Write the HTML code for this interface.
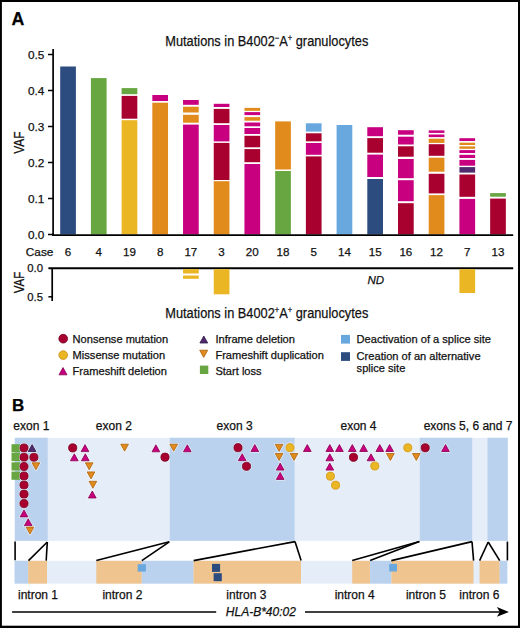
<!DOCTYPE html><html><head><meta charset="utf-8"><style>html,body{margin:0;padding:0;background:#fff;}svg{display:block;}text{font-family:"Liberation Sans", sans-serif;stroke:#111;stroke-width:0.25px;}</style></head><body>
<svg width="520" height="628" viewBox="0 0 520 628">
<rect x="0" y="0" width="520" height="628" fill="#fff"/>
<text x="11.6" y="24.8" font-size="17.8" font-weight="bold" fill="#000">A</text>
<text x="165.3" y="46.1" font-size="15.2" fill="#111" textLength="203" lengthAdjust="spacingAndGlyphs">Mutations in B4002<tspan font-size="9" dy="-5.5">&#8722;</tspan><tspan dy="5.5">A</tspan><tspan font-size="9" dy="-5">+</tspan><tspan dy="5"> granulocytes</tspan></text>
<rect x="60.20" y="66.5" width="15.7" height="167.90" fill="#2C4C80"/>
<text x="68.05" y="256.3" font-size="11.6" text-anchor="middle" fill="#111">6</text>
<rect x="90.91" y="78.1" width="15.7" height="156.30" fill="#67A640"/>
<text x="98.76" y="256.3" font-size="11.6" text-anchor="middle" fill="#111">4</text>
<rect x="121.62" y="88.1" width="15.7" height="6.10" fill="#67A640"/>
<rect x="121.62" y="95.9" width="15.7" height="22.80" fill="#A8002F"/>
<rect x="121.62" y="120.2" width="15.7" height="114.20" fill="#EAB624"/>
<text x="129.47" y="256.3" font-size="11.6" text-anchor="middle" fill="#111">19</text>
<rect x="152.33" y="95.0" width="15.7" height="6.00" fill="#C8007F"/>
<rect x="152.33" y="102.7" width="15.7" height="131.70" fill="#E08B1C"/>
<text x="160.18" y="256.3" font-size="11.6" text-anchor="middle" fill="#111">8</text>
<rect x="183.04" y="100.0" width="15.7" height="4.80" fill="#C8007F"/>
<rect x="183.04" y="106.7" width="15.7" height="5.80" fill="#E08B1C"/>
<rect x="183.04" y="114.8" width="15.7" height="7.90" fill="#E08B1C"/>
<rect x="183.04" y="124.6" width="15.7" height="109.80" fill="#C8007F"/>
<text x="190.89" y="256.3" font-size="11.6" text-anchor="middle" fill="#111">17</text>
<rect x="213.75" y="103.8" width="15.7" height="3.20" fill="#C8007F"/>
<rect x="213.75" y="108.9" width="15.7" height="14.30" fill="#A8002F"/>
<rect x="213.75" y="125.0" width="15.7" height="16.40" fill="#C8007F"/>
<rect x="213.75" y="142.9" width="15.7" height="37.10" fill="#A8002F"/>
<rect x="213.75" y="181.2" width="15.7" height="53.20" fill="#E08B1C"/>
<text x="221.60" y="256.3" font-size="11.6" text-anchor="middle" fill="#111">3</text>
<rect x="244.46" y="107.9" width="15.7" height="2.90" fill="#E08B1C"/>
<rect x="244.46" y="112.1" width="15.7" height="3.00" fill="#C8007F"/>
<rect x="244.46" y="117.1" width="15.7" height="3.60" fill="#E08B1C"/>
<rect x="244.46" y="122.5" width="15.7" height="3.80" fill="#C8007F"/>
<rect x="244.46" y="128.0" width="15.7" height="6.00" fill="#C8007F"/>
<rect x="244.46" y="135.8" width="15.7" height="11.50" fill="#A8002F"/>
<rect x="244.46" y="149.1" width="15.7" height="13.10" fill="#A8002F"/>
<rect x="244.46" y="164.0" width="15.7" height="70.40" fill="#C8007F"/>
<text x="252.31" y="256.3" font-size="11.6" text-anchor="middle" fill="#111">20</text>
<rect x="275.17" y="121.4" width="15.7" height="48.10" fill="#E08B1C"/>
<rect x="275.17" y="171.0" width="15.7" height="63.40" fill="#67A640"/>
<text x="283.02" y="256.3" font-size="11.6" text-anchor="middle" fill="#111">18</text>
<rect x="305.88" y="123.3" width="15.7" height="8.30" fill="#69A8DF"/>
<rect x="305.88" y="133.3" width="15.7" height="8.00" fill="#A8002F"/>
<rect x="305.88" y="143.0" width="15.7" height="11.80" fill="#C8007F"/>
<rect x="305.88" y="156.4" width="15.7" height="78.00" fill="#A8002F"/>
<text x="313.73" y="256.3" font-size="11.6" text-anchor="middle" fill="#111">5</text>
<rect x="336.59" y="125.0" width="15.7" height="109.40" fill="#69A8DF"/>
<text x="344.44" y="256.3" font-size="11.6" text-anchor="middle" fill="#111">14</text>
<rect x="367.30" y="127.2" width="15.7" height="9.00" fill="#C8007F"/>
<rect x="367.30" y="138.1" width="15.7" height="14.60" fill="#A8002F"/>
<rect x="367.30" y="154.6" width="15.7" height="22.40" fill="#C8007F"/>
<rect x="367.30" y="179.0" width="15.7" height="55.40" fill="#2C4C80"/>
<text x="375.15" y="256.3" font-size="11.6" text-anchor="middle" fill="#111">15</text>
<rect x="398.01" y="130.2" width="15.7" height="4.50" fill="#C8007F"/>
<rect x="398.01" y="136.7" width="15.7" height="7.80" fill="#C8007F"/>
<rect x="398.01" y="146.3" width="15.7" height="10.40" fill="#A8002F"/>
<rect x="398.01" y="159.0" width="15.7" height="19.20" fill="#C8007F"/>
<rect x="398.01" y="180.2" width="15.7" height="21.00" fill="#C8007F"/>
<rect x="398.01" y="203.2" width="15.7" height="31.20" fill="#A8002F"/>
<text x="405.86" y="256.3" font-size="11.6" text-anchor="middle" fill="#111">16</text>
<rect x="428.72" y="130.4" width="15.7" height="2.50" fill="#C8007F"/>
<rect x="428.72" y="134.5" width="15.7" height="2.60" fill="#C8007F"/>
<rect x="428.72" y="138.7" width="15.7" height="4.20" fill="#E08B1C"/>
<rect x="428.72" y="144.2" width="15.7" height="11.60" fill="#A8002F"/>
<rect x="428.72" y="157.7" width="15.7" height="14.00" fill="#E08B1C"/>
<rect x="428.72" y="173.8" width="15.7" height="19.60" fill="#A8002F"/>
<rect x="428.72" y="195.1" width="15.7" height="39.30" fill="#E08B1C"/>
<text x="436.57" y="256.3" font-size="11.6" text-anchor="middle" fill="#111">12</text>
<rect x="459.43" y="138.2" width="15.7" height="2.80" fill="#C8007F"/>
<rect x="459.43" y="142.7" width="15.7" height="2.30" fill="#E08B1C"/>
<rect x="459.43" y="146.4" width="15.7" height="2.40" fill="#E08B1C"/>
<rect x="459.43" y="150.1" width="15.7" height="2.90" fill="#C8007F"/>
<rect x="459.43" y="154.8" width="15.7" height="3.20" fill="#C8007F"/>
<rect x="459.43" y="159.9" width="15.7" height="5.80" fill="#C8007F"/>
<rect x="459.43" y="167.1" width="15.7" height="5.50" fill="#4F2B6E"/>
<rect x="459.43" y="174.5" width="15.7" height="22.30" fill="#A8002F"/>
<rect x="459.43" y="198.9" width="15.7" height="35.50" fill="#C8007F"/>
<text x="467.28" y="256.3" font-size="11.6" text-anchor="middle" fill="#111">7</text>
<rect x="490.14" y="193.1" width="15.7" height="3.60" fill="#67A640"/>
<rect x="490.14" y="198.6" width="15.7" height="35.80" fill="#A8002F"/>
<text x="497.99" y="256.3" font-size="11.6" text-anchor="middle" fill="#111">13</text>
<line x1="53.1" y1="48.9" x2="53.1" y2="235.8" stroke="#000" stroke-width="1.7"/>
<line x1="52.3" y1="235.1" x2="513.2" y2="235.1" stroke="#000" stroke-width="1.8"/>
<line x1="48" y1="234.50" x2="53" y2="234.50" stroke="#000" stroke-width="1.5"/>
<text x="44.4" y="239.20" font-size="11.8" text-anchor="end" fill="#111">0.0</text>
<line x1="48" y1="198.50" x2="53" y2="198.50" stroke="#000" stroke-width="1.5"/>
<text x="44.4" y="203.20" font-size="11.8" text-anchor="end" fill="#111">0.1</text>
<line x1="48" y1="162.50" x2="53" y2="162.50" stroke="#000" stroke-width="1.5"/>
<text x="44.4" y="167.20" font-size="11.8" text-anchor="end" fill="#111">0.2</text>
<line x1="48" y1="126.50" x2="53" y2="126.50" stroke="#000" stroke-width="1.5"/>
<text x="44.4" y="131.20" font-size="11.8" text-anchor="end" fill="#111">0.3</text>
<line x1="48" y1="90.50" x2="53" y2="90.50" stroke="#000" stroke-width="1.5"/>
<text x="44.4" y="95.20" font-size="11.8" text-anchor="end" fill="#111">0.4</text>
<line x1="48" y1="54.50" x2="53" y2="54.50" stroke="#000" stroke-width="1.5"/>
<text x="44.4" y="59.20" font-size="11.8" text-anchor="end" fill="#111">0.5</text>
<text transform="translate(23.9,142.7) rotate(-90)" font-size="14" text-anchor="middle" fill="#111" textLength="22.3" lengthAdjust="spacingAndGlyphs">VAF</text>
<text x="25.8" y="256.0" font-size="11.8" fill="#111">Case</text>
<line x1="48.4" y1="268.3" x2="513.2" y2="268.3" stroke="#000" stroke-width="1.9"/>
<line x1="52.2" y1="268.3" x2="52.2" y2="301" stroke="#000" stroke-width="1.7"/>
<line x1="48.4" y1="296.8" x2="52.2" y2="296.8" stroke="#000" stroke-width="1.5"/>
<text x="43" y="272.3" font-size="11.3" text-anchor="end" fill="#111">0.0</text>
<text x="43" y="301.0" font-size="11.3" text-anchor="end" fill="#111">0.5</text>
<text transform="translate(24.0,282.5) rotate(-90)" font-size="14" text-anchor="middle" fill="#111" textLength="21.6" lengthAdjust="spacingAndGlyphs">VAF</text>
<rect x="183.04" y="269.2" width="15.7" height="4.30" fill="#EAB624"/>
<rect x="183.04" y="275.5" width="15.7" height="3.30" fill="#EAB624"/>
<rect x="213.75" y="269.2" width="15.7" height="25.10" fill="#EAB624"/>
<rect x="459.43" y="269.2" width="15.7" height="23.80" fill="#EAB624"/>
<text x="375.8" y="284.2" font-size="11.5" font-style="italic" text-anchor="middle" fill="#111">ND</text>
<text x="165.3" y="317.5" font-size="15.2" fill="#111" textLength="203" lengthAdjust="spacingAndGlyphs">Mutations in B4002<tspan font-size="9" dy="-5">+</tspan><tspan dy="5">A</tspan><tspan font-size="9" dy="-5">+</tspan><tspan dy="5"> granulocytes</tspan></text>
<circle cx="63.2" cy="338.7" r="4.35" fill="none" stroke="#fff" stroke-opacity="0.8" stroke-width="1.4"/>
<circle cx="63.2" cy="338.7" r="4.35" fill="#A8002F" stroke="#6E0020" stroke-width="0.8"/>
<circle cx="63.2" cy="355.1" r="4.35" fill="none" stroke="#fff" stroke-opacity="0.8" stroke-width="1.4"/>
<circle cx="63.2" cy="355.1" r="4.35" fill="#EAB624" stroke="#C8921A" stroke-width="0.8"/>
<polygon points="59.00,374.80 67.00,374.80 63.00,367.60" fill="none" stroke="#fff" stroke-opacity="0.8" stroke-width="1.4" stroke-linejoin="round"/>
<polygon points="59.00,374.80 67.00,374.80 63.00,367.60" fill="#C8007F" stroke="#80004F" stroke-width="0.8" stroke-linejoin="round"/>
<polygon points="199.90,343.01 207.70,343.01 203.80,335.99" fill="none" stroke="#fff" stroke-opacity="0.8" stroke-width="1.4" stroke-linejoin="round"/>
<polygon points="199.90,343.01 207.70,343.01 203.80,335.99" fill="#4F2B6E" stroke="#2E1648" stroke-width="0.8" stroke-linejoin="round"/>
<polygon points="199.70,350.20 207.70,350.20 203.70,357.40" fill="none" stroke="#fff" stroke-opacity="0.8" stroke-width="1.4" stroke-linejoin="round"/>
<polygon points="199.70,350.20 207.70,350.20 203.70,357.40" fill="#E08B1C" stroke="#A86212" stroke-width="0.8" stroke-linejoin="round"/>
<rect x="199.9" y="365.6" width="8.4" height="8.4" fill="#67A640"/>
<rect x="341" y="334.9" width="9" height="8.7" fill="#69A8DF"/>
<rect x="341" y="352.2" width="9" height="8.7" fill="#2C4C80"/>
<text x="72.6" y="342.9" font-size="11.1" fill="#111">Nonsense mutation</text>
<text x="72.6" y="358.9" font-size="11.1" fill="#111">Missense mutation</text>
<text x="72.6" y="375.1" font-size="11.1" fill="#111">Frameshift deletion</text>
<text x="215.4" y="343.0" font-size="11.1" fill="#111">Inframe deletion</text>
<text x="215.4" y="358.8" font-size="11.1" fill="#111">Frameshift duplication</text>
<text x="215.4" y="375.2" font-size="11.1" fill="#111">Start loss</text>
<text x="356.6" y="342.8" font-size="11.1" fill="#111">Deactivation of a splice site</text>
<text x="356.6" y="359.9" font-size="11.1" fill="#111">Creation of an alternative</text>
<text x="356.6" y="371.8" font-size="11.1" fill="#111">splice site</text>
<text x="12.0" y="410.9" font-size="17.0" font-weight="bold" fill="#000">B</text>
<text x="13.3" y="430.0" font-size="12" fill="#111">exon 1</text>
<text x="95.8" y="430.0" font-size="12" fill="#111">exon 2</text>
<text x="216.6" y="430.0" font-size="12" fill="#111">exon 3</text>
<text x="340.5" y="430.0" font-size="12" fill="#111">exon 4</text>
<text x="423.7" y="430.0" font-size="12" fill="#111">exons 5, 6 and 7</text>
<rect x="14.8" y="437.8" width="493.2" height="103" fill="#E4EDF8"/>
<rect x="14.8" y="437.8" width="32.90" height="103" fill="#BBD2EF"/>
<rect x="169.8" y="437.8" width="124.80" height="103" fill="#BBD2EF"/>
<rect x="419.8" y="437.8" width="52.40" height="103" fill="#BBD2EF"/>
<rect x="487.5" y="437.8" width="20.30" height="103" fill="#BBD2EF"/>
<rect x="11.5" y="444.2" width="8.6" height="8.2" fill="#67A640"/>
<rect x="11.5" y="452.9" width="8.6" height="8.2" fill="#67A640"/>
<rect x="11.5" y="462.3" width="8.6" height="8.2" fill="#67A640"/>
<rect x="11.5" y="471.6" width="8.6" height="8.2" fill="#67A640"/>
<circle cx="24.0" cy="448.0" r="4.1" fill="none" stroke="#fff" stroke-opacity="0.8" stroke-width="2.0"/>
<circle cx="24.0" cy="448.0" r="4.1" fill="#A8002F" stroke="#6E0020" stroke-width="0.8"/>
<circle cx="24.0" cy="457.3" r="4.1" fill="none" stroke="#fff" stroke-opacity="0.8" stroke-width="2.0"/>
<circle cx="24.0" cy="457.3" r="4.1" fill="#A8002F" stroke="#6E0020" stroke-width="0.8"/>
<circle cx="24.0" cy="466.5" r="4.1" fill="none" stroke="#fff" stroke-opacity="0.8" stroke-width="2.0"/>
<circle cx="24.0" cy="466.5" r="4.1" fill="#A8002F" stroke="#6E0020" stroke-width="0.8"/>
<circle cx="24.0" cy="476.0" r="4.1" fill="none" stroke="#fff" stroke-opacity="0.8" stroke-width="2.0"/>
<circle cx="24.0" cy="476.0" r="4.1" fill="#A8002F" stroke="#6E0020" stroke-width="0.8"/>
<circle cx="24.0" cy="485.0" r="4.1" fill="none" stroke="#fff" stroke-opacity="0.8" stroke-width="2.0"/>
<circle cx="24.0" cy="485.0" r="4.1" fill="#A8002F" stroke="#6E0020" stroke-width="0.8"/>
<circle cx="24.0" cy="494.2" r="4.1" fill="none" stroke="#fff" stroke-opacity="0.8" stroke-width="2.0"/>
<circle cx="24.0" cy="494.2" r="4.1" fill="#A8002F" stroke="#6E0020" stroke-width="0.8"/>
<circle cx="24.0" cy="503.6" r="4.1" fill="none" stroke="#fff" stroke-opacity="0.8" stroke-width="2.0"/>
<circle cx="24.0" cy="503.6" r="4.1" fill="#A8002F" stroke="#6E0020" stroke-width="0.8"/>
<polygon points="20.10,516.91 27.90,516.91 24.00,509.89" fill="none" stroke="#fff" stroke-opacity="0.8" stroke-width="2.0" stroke-linejoin="round"/>
<polygon points="20.10,516.91 27.90,516.91 24.00,509.89" fill="#C8007F" stroke="#80004F" stroke-width="0.8" stroke-linejoin="round"/>
<polygon points="24.30,525.81 32.10,525.81 28.20,518.79" fill="none" stroke="#fff" stroke-opacity="0.8" stroke-width="2.0" stroke-linejoin="round"/>
<polygon points="24.30,525.81 32.10,525.81 28.20,518.79" fill="#C8007F" stroke="#80004F" stroke-width="0.8" stroke-linejoin="round"/>
<polygon points="26.10,527.09 33.90,527.09 30.00,534.11" fill="none" stroke="#fff" stroke-opacity="0.8" stroke-width="2.0" stroke-linejoin="round"/>
<polygon points="26.10,527.09 33.90,527.09 30.00,534.11" fill="#E08B1C" stroke="#A86212" stroke-width="0.8" stroke-linejoin="round"/>
<polygon points="28.20,451.51 36.00,451.51 32.10,444.49" fill="none" stroke="#fff" stroke-opacity="0.8" stroke-width="2.0" stroke-linejoin="round"/>
<polygon points="28.20,451.51 36.00,451.51 32.10,444.49" fill="#4F2B6E" stroke="#2E1648" stroke-width="0.8" stroke-linejoin="round"/>
<circle cx="33.9" cy="457.3" r="4.1" fill="none" stroke="#fff" stroke-opacity="0.8" stroke-width="2.0"/>
<circle cx="33.9" cy="457.3" r="4.1" fill="#A8002F" stroke="#6E0020" stroke-width="0.8"/>
<polygon points="32.00,462.79 39.80,462.79 35.90,469.81" fill="none" stroke="#fff" stroke-opacity="0.8" stroke-width="2.0" stroke-linejoin="round"/>
<polygon points="32.00,462.79 39.80,462.79 35.90,469.81" fill="#E08B1C" stroke="#A86212" stroke-width="0.8" stroke-linejoin="round"/>
<circle cx="72.7" cy="447.9" r="4.1" fill="none" stroke="#fff" stroke-opacity="0.8" stroke-width="2.0"/>
<circle cx="72.7" cy="447.9" r="4.1" fill="#A8002F" stroke="#6E0020" stroke-width="0.8"/>
<polygon points="81.10,451.61 88.90,451.61 85.00,444.59" fill="none" stroke="#fff" stroke-opacity="0.8" stroke-width="2.0" stroke-linejoin="round"/>
<polygon points="81.10,451.61 88.90,451.61 85.00,444.59" fill="#C8007F" stroke="#80004F" stroke-width="0.8" stroke-linejoin="round"/>
<polygon points="70.40,460.81 78.20,460.81 74.30,453.79" fill="none" stroke="#fff" stroke-opacity="0.8" stroke-width="2.0" stroke-linejoin="round"/>
<polygon points="70.40,460.81 78.20,460.81 74.30,453.79" fill="#C8007F" stroke="#80004F" stroke-width="0.8" stroke-linejoin="round"/>
<polygon points="81.40,460.81 89.20,460.81 85.30,453.79" fill="none" stroke="#fff" stroke-opacity="0.8" stroke-width="2.0" stroke-linejoin="round"/>
<polygon points="81.40,460.81 89.20,460.81 85.30,453.79" fill="#C8007F" stroke="#80004F" stroke-width="0.8" stroke-linejoin="round"/>
<polygon points="85.30,462.79 93.10,462.79 89.20,469.81" fill="none" stroke="#fff" stroke-opacity="0.8" stroke-width="2.0" stroke-linejoin="round"/>
<polygon points="85.30,462.79 93.10,462.79 89.20,469.81" fill="#E08B1C" stroke="#A86212" stroke-width="0.8" stroke-linejoin="round"/>
<polygon points="87.10,471.89 94.90,471.89 91.00,478.91" fill="none" stroke="#fff" stroke-opacity="0.8" stroke-width="2.0" stroke-linejoin="round"/>
<polygon points="87.10,471.89 94.90,471.89 91.00,478.91" fill="#E08B1C" stroke="#A86212" stroke-width="0.8" stroke-linejoin="round"/>
<polygon points="89.00,481.29 96.80,481.29 92.90,488.31" fill="none" stroke="#fff" stroke-opacity="0.8" stroke-width="2.0" stroke-linejoin="round"/>
<polygon points="89.00,481.29 96.80,481.29 92.90,488.31" fill="#E08B1C" stroke="#A86212" stroke-width="0.8" stroke-linejoin="round"/>
<polygon points="88.40,498.01 96.20,498.01 92.30,490.99" fill="none" stroke="#fff" stroke-opacity="0.8" stroke-width="2.0" stroke-linejoin="round"/>
<polygon points="88.40,498.01 96.20,498.01 92.30,490.99" fill="#C8007F" stroke="#80004F" stroke-width="0.8" stroke-linejoin="round"/>
<polygon points="120.70,444.19 128.50,444.19 124.60,451.21" fill="none" stroke="#fff" stroke-opacity="0.8" stroke-width="2.0" stroke-linejoin="round"/>
<polygon points="120.70,444.19 128.50,444.19 124.60,451.21" fill="#E08B1C" stroke="#A86212" stroke-width="0.8" stroke-linejoin="round"/>
<polygon points="152.00,451.81 159.80,451.81 155.90,444.79" fill="none" stroke="#fff" stroke-opacity="0.8" stroke-width="2.0" stroke-linejoin="round"/>
<polygon points="152.00,451.81 159.80,451.81 155.90,444.79" fill="#C8007F" stroke="#80004F" stroke-width="0.8" stroke-linejoin="round"/>
<circle cx="165.0" cy="457.2" r="4.1" fill="none" stroke="#fff" stroke-opacity="0.8" stroke-width="2.0"/>
<circle cx="165.0" cy="457.2" r="4.1" fill="#A8002F" stroke="#6E0020" stroke-width="0.8"/>
<polygon points="169.80,444.19 177.60,444.19 173.70,451.21" fill="none" stroke="#fff" stroke-opacity="0.8" stroke-width="2.0" stroke-linejoin="round"/>
<polygon points="169.80,444.19 177.60,444.19 173.70,451.21" fill="#E08B1C" stroke="#A86212" stroke-width="0.8" stroke-linejoin="round"/>
<polygon points="183.40,451.81 191.20,451.81 187.30,444.79" fill="none" stroke="#fff" stroke-opacity="0.8" stroke-width="2.0" stroke-linejoin="round"/>
<polygon points="183.40,451.81 191.20,451.81 187.30,444.79" fill="#C8007F" stroke="#80004F" stroke-width="0.8" stroke-linejoin="round"/>
<circle cx="238.0" cy="447.7" r="4.1" fill="none" stroke="#fff" stroke-opacity="0.8" stroke-width="2.0"/>
<circle cx="238.0" cy="447.7" r="4.1" fill="#A8002F" stroke="#6E0020" stroke-width="0.8"/>
<polygon points="250.90,451.51 258.70,451.51 254.80,444.49" fill="none" stroke="#fff" stroke-opacity="0.8" stroke-width="2.0" stroke-linejoin="round"/>
<polygon points="250.90,451.51 258.70,451.51 254.80,444.49" fill="#C8007F" stroke="#80004F" stroke-width="0.8" stroke-linejoin="round"/>
<polygon points="238.30,460.71 246.10,460.71 242.20,453.69" fill="none" stroke="#fff" stroke-opacity="0.8" stroke-width="2.0" stroke-linejoin="round"/>
<polygon points="238.30,460.71 246.10,460.71 242.20,453.69" fill="#C8007F" stroke="#80004F" stroke-width="0.8" stroke-linejoin="round"/>
<circle cx="246.5" cy="466.3" r="4.1" fill="none" stroke="#fff" stroke-opacity="0.8" stroke-width="2.0"/>
<circle cx="246.5" cy="466.3" r="4.1" fill="#A8002F" stroke="#6E0020" stroke-width="0.8"/>
<polygon points="275.20,444.39 283.00,444.39 279.10,451.41" fill="none" stroke="#fff" stroke-opacity="0.8" stroke-width="2.0" stroke-linejoin="round"/>
<polygon points="275.20,444.39 283.00,444.39 279.10,451.41" fill="#E08B1C" stroke="#A86212" stroke-width="0.8" stroke-linejoin="round"/>
<circle cx="290.0" cy="447.7" r="4.1" fill="none" stroke="#fff" stroke-opacity="0.8" stroke-width="2.0"/>
<circle cx="290.0" cy="447.7" r="4.1" fill="#EAB624" stroke="#C8921A" stroke-width="0.8"/>
<polygon points="275.20,453.49 283.00,453.49 279.10,460.51" fill="none" stroke="#fff" stroke-opacity="0.8" stroke-width="2.0" stroke-linejoin="round"/>
<polygon points="275.20,453.49 283.00,453.49 279.10,460.51" fill="#E08B1C" stroke="#A86212" stroke-width="0.8" stroke-linejoin="round"/>
<polygon points="290.10,453.49 297.90,453.49 294.00,460.51" fill="none" stroke="#fff" stroke-opacity="0.8" stroke-width="2.0" stroke-linejoin="round"/>
<polygon points="290.10,453.49 297.90,453.49 294.00,460.51" fill="#E08B1C" stroke="#A86212" stroke-width="0.8" stroke-linejoin="round"/>
<polygon points="276.30,470.11 284.10,470.11 280.20,463.09" fill="none" stroke="#fff" stroke-opacity="0.8" stroke-width="2.0" stroke-linejoin="round"/>
<polygon points="276.30,470.11 284.10,470.11 280.20,463.09" fill="#C8007F" stroke="#80004F" stroke-width="0.8" stroke-linejoin="round"/>
<polygon points="276.30,479.41 284.10,479.41 280.20,472.39" fill="none" stroke="#fff" stroke-opacity="0.8" stroke-width="2.0" stroke-linejoin="round"/>
<polygon points="276.30,479.41 284.10,479.41 280.20,472.39" fill="#C8007F" stroke="#80004F" stroke-width="0.8" stroke-linejoin="round"/>
<polygon points="303.40,451.51 311.20,451.51 307.30,444.49" fill="none" stroke="#fff" stroke-opacity="0.8" stroke-width="2.0" stroke-linejoin="round"/>
<polygon points="303.40,451.51 311.20,451.51 307.30,444.49" fill="#C8007F" stroke="#80004F" stroke-width="0.8" stroke-linejoin="round"/>
<polygon points="325.90,451.51 333.70,451.51 329.80,444.49" fill="none" stroke="#fff" stroke-opacity="0.8" stroke-width="2.0" stroke-linejoin="round"/>
<polygon points="325.90,451.51 333.70,451.51 329.80,444.49" fill="#C8007F" stroke="#80004F" stroke-width="0.8" stroke-linejoin="round"/>
<polygon points="335.50,451.51 343.30,451.51 339.40,444.49" fill="none" stroke="#fff" stroke-opacity="0.8" stroke-width="2.0" stroke-linejoin="round"/>
<polygon points="335.50,451.51 343.30,451.51 339.40,444.49" fill="#C8007F" stroke="#80004F" stroke-width="0.8" stroke-linejoin="round"/>
<polygon points="348.40,451.51 356.20,451.51 352.30,444.49" fill="none" stroke="#fff" stroke-opacity="0.8" stroke-width="2.0" stroke-linejoin="round"/>
<polygon points="348.40,451.51 356.20,451.51 352.30,444.49" fill="#C8007F" stroke="#80004F" stroke-width="0.8" stroke-linejoin="round"/>
<polygon points="359.70,451.51 367.50,451.51 363.60,444.49" fill="none" stroke="#fff" stroke-opacity="0.8" stroke-width="2.0" stroke-linejoin="round"/>
<polygon points="359.70,451.51 367.50,451.51 363.60,444.49" fill="#C8007F" stroke="#80004F" stroke-width="0.8" stroke-linejoin="round"/>
<polygon points="375.90,451.51 383.70,451.51 379.80,444.49" fill="none" stroke="#fff" stroke-opacity="0.8" stroke-width="2.0" stroke-linejoin="round"/>
<polygon points="375.90,451.51 383.70,451.51 379.80,444.49" fill="#C8007F" stroke="#80004F" stroke-width="0.8" stroke-linejoin="round"/>
<polygon points="385.70,451.51 393.50,451.51 389.60,444.49" fill="none" stroke="#fff" stroke-opacity="0.8" stroke-width="2.0" stroke-linejoin="round"/>
<polygon points="385.70,451.51 393.50,451.51 389.60,444.49" fill="#C8007F" stroke="#80004F" stroke-width="0.8" stroke-linejoin="round"/>
<polygon points="325.90,460.81 333.70,460.81 329.80,453.79" fill="none" stroke="#fff" stroke-opacity="0.8" stroke-width="2.0" stroke-linejoin="round"/>
<polygon points="325.90,460.81 333.70,460.81 329.80,453.79" fill="#C8007F" stroke="#80004F" stroke-width="0.8" stroke-linejoin="round"/>
<circle cx="353.5" cy="457.3" r="4.1" fill="none" stroke="#fff" stroke-opacity="0.8" stroke-width="2.0"/>
<circle cx="353.5" cy="457.3" r="4.1" fill="#A8002F" stroke="#6E0020" stroke-width="0.8"/>
<polygon points="367.10,460.81 374.90,460.81 371.00,453.79" fill="none" stroke="#fff" stroke-opacity="0.8" stroke-width="2.0" stroke-linejoin="round"/>
<polygon points="367.10,460.81 374.90,460.81 371.00,453.79" fill="#C8007F" stroke="#80004F" stroke-width="0.8" stroke-linejoin="round"/>
<polygon points="386.50,453.49 394.30,453.49 390.40,460.51" fill="none" stroke="#fff" stroke-opacity="0.8" stroke-width="2.0" stroke-linejoin="round"/>
<polygon points="386.50,453.49 394.30,453.49 390.40,460.51" fill="#E08B1C" stroke="#A86212" stroke-width="0.8" stroke-linejoin="round"/>
<polygon points="325.90,470.11 333.70,470.11 329.80,463.09" fill="none" stroke="#fff" stroke-opacity="0.8" stroke-width="2.0" stroke-linejoin="round"/>
<polygon points="325.90,470.11 333.70,470.11 329.80,463.09" fill="#C8007F" stroke="#80004F" stroke-width="0.8" stroke-linejoin="round"/>
<circle cx="374.8" cy="466.0" r="4.1" fill="none" stroke="#fff" stroke-opacity="0.8" stroke-width="2.0"/>
<circle cx="374.8" cy="466.0" r="4.1" fill="#EAB624" stroke="#C8921A" stroke-width="0.8"/>
<circle cx="330.4" cy="476.2" r="4.1" fill="none" stroke="#fff" stroke-opacity="0.8" stroke-width="2.0"/>
<circle cx="330.4" cy="476.2" r="4.1" fill="#EAB624" stroke="#C8921A" stroke-width="0.8"/>
<circle cx="335.6" cy="485.2" r="4.1" fill="none" stroke="#fff" stroke-opacity="0.8" stroke-width="2.0"/>
<circle cx="335.6" cy="485.2" r="4.1" fill="#EAB624" stroke="#C8921A" stroke-width="0.8"/>
<circle cx="407.8" cy="447.8" r="4.1" fill="none" stroke="#fff" stroke-opacity="0.8" stroke-width="2.0"/>
<circle cx="407.8" cy="447.8" r="4.1" fill="#EAB624" stroke="#C8921A" stroke-width="0.8"/>
<polygon points="412.40,453.49 420.20,453.49 416.30,460.51" fill="none" stroke="#fff" stroke-opacity="0.8" stroke-width="2.0" stroke-linejoin="round"/>
<polygon points="412.40,453.49 420.20,453.49 416.30,460.51" fill="#E08B1C" stroke="#A86212" stroke-width="0.8" stroke-linejoin="round"/>
<circle cx="425.2" cy="447.8" r="4.1" fill="none" stroke="#fff" stroke-opacity="0.8" stroke-width="2.0"/>
<circle cx="425.2" cy="447.8" r="4.1" fill="#A8002F" stroke="#6E0020" stroke-width="0.8"/>
<polygon points="441.60,451.51 449.40,451.51 445.50,444.49" fill="none" stroke="#fff" stroke-opacity="0.8" stroke-width="2.0" stroke-linejoin="round"/>
<polygon points="441.60,451.51 449.40,451.51 445.50,444.49" fill="#C8007F" stroke="#80004F" stroke-width="0.8" stroke-linejoin="round"/>
<rect x="14.6" y="560.8" width="492.7" height="22.8" fill="#E4EDF8"/>
<rect x="14.6" y="560.8" width="13.60" height="22.8" fill="#BBD2EF"/>
<rect x="28.2" y="560.8" width="18.80" height="22.8" fill="#EFC48E"/>
<rect x="96.3" y="560.8" width="45.50" height="22.8" fill="#EFC48E"/>
<rect x="141.8" y="560.8" width="51.80" height="22.8" fill="#BBD2EF"/>
<rect x="193.6" y="560.8" width="107.40" height="22.8" fill="#EFC48E"/>
<rect x="352.2" y="560.8" width="17.90" height="22.8" fill="#EFC48E"/>
<rect x="370.1" y="560.8" width="21.30" height="22.8" fill="#BBD2EF"/>
<rect x="391.4" y="560.8" width="82.10" height="22.8" fill="#EFC48E"/>
<rect x="479.6" y="560.8" width="20.10" height="22.8" fill="#EFC48E"/>
<rect x="499.7" y="560.8" width="7.60" height="22.8" fill="#BBD2EF"/>
<rect x="137.7" y="564.2" width="8.2" height="7.4" fill="#69A8DF"/>
<rect x="389.2" y="563.9" width="7.8" height="7.6" fill="#69A8DF"/>
<rect x="212.0" y="563.9" width="8.1" height="8.0" fill="#2C4C80"/>
<rect x="213.6" y="573.2" width="8.2" height="8.0" fill="#2C4C80"/>
<line x1="15.1" y1="541.5" x2="15.1" y2="560.2" stroke="#000" stroke-width="1.6"/>
<line x1="47.3" y1="542.0" x2="28.5" y2="560.6" stroke="#000" stroke-width="1.6"/>
<line x1="47.3" y1="542.0" x2="46.2" y2="560.6" stroke="#000" stroke-width="1.6"/>
<line x1="169.3" y1="541.8" x2="96.3" y2="560.6" stroke="#000" stroke-width="1.6"/>
<line x1="169.3" y1="541.8" x2="141.8" y2="560.6" stroke="#000" stroke-width="1.6"/>
<line x1="295.0" y1="541.6" x2="193.6" y2="560.6" stroke="#000" stroke-width="1.6"/>
<line x1="295.0" y1="541.6" x2="301.1" y2="560.6" stroke="#000" stroke-width="1.6"/>
<line x1="419.4" y1="541.6" x2="352.2" y2="560.6" stroke="#000" stroke-width="1.6"/>
<line x1="419.4" y1="541.6" x2="370.1" y2="560.6" stroke="#000" stroke-width="1.6"/>
<line x1="472.0" y1="541.6" x2="391.3" y2="560.6" stroke="#000" stroke-width="1.6"/>
<line x1="472.0" y1="541.6" x2="473.6" y2="560.6" stroke="#000" stroke-width="1.6"/>
<line x1="488.2" y1="542.0" x2="479.6" y2="560.6" stroke="#000" stroke-width="1.6"/>
<line x1="488.2" y1="542.0" x2="499.7" y2="560.6" stroke="#000" stroke-width="1.6"/>
<line x1="507.4" y1="541.6" x2="507.4" y2="560.4" stroke="#000" stroke-width="1.6"/>
<text x="18.0" y="598.9" font-size="12" fill="#111">intron 1</text>
<text x="102.4" y="598.9" font-size="12" fill="#111">intron 2</text>
<text x="226.3" y="598.9" font-size="12" fill="#111">intron 3</text>
<text x="334.7" y="598.9" font-size="12" fill="#111">intron 4</text>
<text x="405.9" y="598.9" font-size="12" fill="#111">intron 5</text>
<text x="459.3" y="598.9" font-size="12" fill="#111">intron 6</text>
<line x1="12.1" y1="612.0" x2="216.2" y2="612.0" stroke="#000" stroke-width="1.7"/>
<line x1="305" y1="612.0" x2="500" y2="612.0" stroke="#000" stroke-width="1.7"/>
<polygon points="496.9,607.1 508.9,612.0 496.9,616.8 499.8,612.0" fill="#000"/>
<text x="225.8" y="615.8" font-size="12" font-style="italic" fill="#111">HLA-B*40:02</text>
<rect x="0" y="0" width="520" height="2" fill="#000"/>
<rect x="0" y="0" width="1.9" height="628" fill="#000"/>
<rect x="518" y="0" width="2" height="628" fill="#000"/>
<rect x="0" y="625.7" width="520" height="2.3" fill="#000"/>
</svg></body></html>
